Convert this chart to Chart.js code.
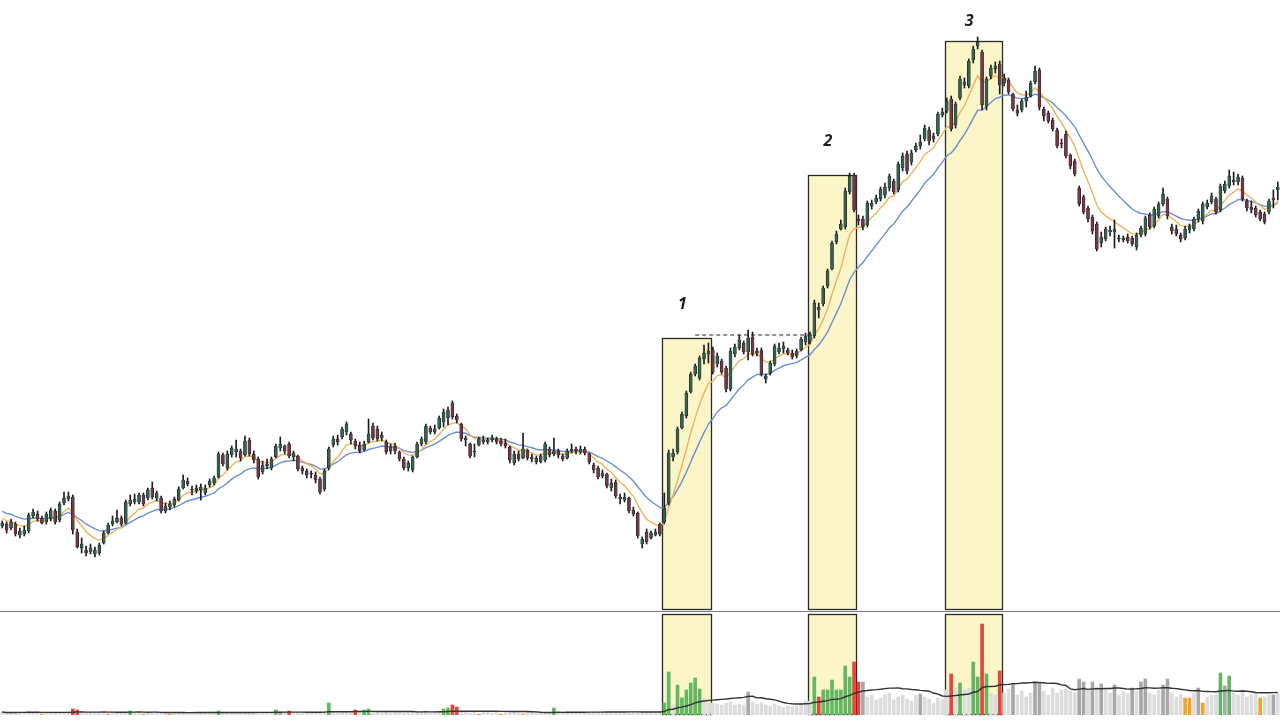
<!DOCTYPE html>
<html>
<head>
<meta charset="utf-8">
<script src="https://cdn.jsdelivr.net/npm/chart.js@4.4.1/dist/chart.umd.min.js"></script>
<style>
  html, body { margin: 0; padding: 0; background: #fff; overflow: hidden; }
  #priceChart { position: absolute; left: 0; top: 0; }
  #volumeChart { position: absolute; left: 0; top: 611px; }
</style>
</head>
<body>
<canvas id="priceChart" width="1280" height="611"></canvas>
<canvas id="volumeChart" width="1280" height="111"></canvas>
<script>
// daily prices (one row = 10 sessions)
const opens = [
  474,476,472,476,465,466,469,484,486,482, 478,481,489,480,497,501,503,468,452,450,
  448,446,447,457,467,476,478,482,477,496, 498,498,505,502,512,502,502,489,493,495,
  500,512,519,510,509,510,507,515,517,523, 545,532,545,548,549,545,560,546,541,528,
  536,532,543,552,554,556,543,544,532,529, 526,525,521,511,532,555,561,563,568,566,
  559,555,550,558,574,571,562,558,549,554, 548,541,532,530,543,556,558,572,568,572,
  578,582,597,584,576,560,556,548,555,560, 558,560,561,559,557,553,537,546,542,550,
  541,542,538,540,551,546,549,544,542,549, 551,548,551,546,535,532,524,526,512,518,
  503,500,502,490,487,456,468,462,465,476, 478,497,543,548,572,584,608,626,622,641,
  646,650,636,639,632,611,646,652,657,648, 663,647,650,621,627,636,648,651,650,647,
  644,650,658,659,664,690,696,714,731,758, 771,773,808,825,781,781,775,794,798,801,
  805,812,819,810,832,846,838,850,854,861, 870,861,866,885,889,901,875,902,915,914,
  940,954,948,894,924,931,936,917,920,906, 890,890,899,904,918,930,891,887,880,870,
  857,866,845,839,812,803,792,783,776,757, 761,768,768,762,760,763,762,753,765,766,
  785,774,784,796,801,773,771,765,762,770, 771,781,779,793,798,801,790,809,814,820,
  818,822,799,793,792,788,786,788,800,810
];
const highs = [
  479,478,481,478,472,474,487,491,489,484, 488,492,491,498,508,508,505,471,462,454,
  456,453,457,469,477,484,490,484,500,505, 506,507,507,512,518,509,504,497,499,503,
  513,525,522,514,515,516,515,521,524,548, 547,549,554,560,551,564,562,549,543,539,
  541,543,556,563,555,558,549,545,534,531, 529,528,523,531,553,564,565,573,578,568,
  561,558,559,581,577,574,568,560,556,557, 549,543,539,544,558,563,576,574,575,584,
  591,593,599,586,577,564,557,556,563,564, 562,565,563,562,561,554,549,549,567,551,
  546,544,546,558,553,562,551,546,551,556, 553,554,553,547,537,534,530,527,521,520,
  506,507,503,493,488,463,471,469,471,477, 507,550,551,573,588,609,628,636,644,655,
  657,653,647,641,634,652,656,665,659,670, 668,652,652,626,639,656,657,658,652,650,
  651,663,667,668,700,697,714,731,759,769, 780,812,827,827,785,784,799,800,805,813,
  817,826,821,838,847,849,850,857,865,875, 873,867,888,892,902,904,898,924,922,941,
  954,963,950,923,935,938,939,926,922,907, 895,901,909,919,934,932,893,889,882,872,
  861,869,846,841,814,805,794,785,778,768, 773,774,780,765,764,766,764,767,774,784,
  787,793,798,812,803,776,775,767,774,776, 783,791,798,800,807,803,816,819,830,828,
  826,824,801,799,794,790,788,801,810,818
];
const lows = [
  472,467,470,464,462,464,467,482,479,476, 476,479,476,478,495,499,466,452,447,444,
  446,443,445,456,466,474,477,474,476,494, 496,496,494,500,501,499,487,487,490,493,
  499,511,514,505,507,500,505,513,515,522, 534,530,543,543,539,544,544,537,521,526,
  531,530,542,549,546,542,539,529,526,522, 522,517,506,509,530,553,555,561,565,556,
  551,547,549,557,560,559,559,546,546,546, 539,530,529,528,542,554,556,566,566,571,
  573,575,581,577,559,554,542,543,554,556, 556,558,556,554,552,537,535,539,541,540,
  538,536,537,538,543,544,542,539,541,547, 546,546,545,536,527,521,522,512,509,502,
  496,498,487,484,462,452,456,461,464,464, 476,495,539,546,571,582,607,624,620,636,
  637,626,633,626,608,609,643,650,646,640, 644,644,624,617,625,634,646,647,645,641,
  642,649,655,656,662,682,694,712,730,756, 770,771,806,788,775,770,773,791,796,799,
  802,809,806,808,829,826,835,848,851,859, 855,858,864,883,887,869,872,900,912,912,
  937,951,890,890,921,927,906,914,906,889, 884,888,893,903,916,890,879,877,869,852,
  852,842,831,824,794,786,778,766,749,753, 759,764,752,758,758,757,754,750,763,764,
  771,772,782,794,781,766,764,758,760,767, 769,778,776,791,796,786,788,807,812,815,
  815,799,789,787,783,779,776,786,792,800
];
const closes = [
  477,470,478,466,469,470,485,488,481,477, 486,490,478,496,502,504,470,453,456,447,
  452,450,455,467,475,479,482,476,498,500, 501,505,496,510,503,507,489,494,496,501,
  511,520,516,511,512,513,512,519,522,546, 536,546,552,551,542,559,546,540,523,535,
  534,541,554,556,549,544,547,531,529,525, 527,520,508,529,551,561,558,571,576,560,
  554,549,556,566,562,561,565,548,553,549, 541,532,537,543,556,561,574,568,571,582,
  588,590,583,580,561,562,544,549,561,558, 560,562,558,556,554,540,546,541,551,542,
  543,538,544,556,545,549,545,541,549,551, 549,551,547,538,530,523,527,514,517,504,
  501,503,489,486,464,461,458,467,468,466, 492,547,547,571,586,607,626,634,642,647,
  649,628,644,628,611,649,653,660,648,662, 646,649,626,624,637,654,652,654,647,643,
  649,661,664,666,697,693,712,729,757,766, 776,809,824,790,779,773,797,797,802,811,
  813,824,808,836,844,829,847,854,858,872, 859,864,886,888,899,871,896,921,918,939,
  951,958,895,921,932,934,915,922,908,891, 887,899,903,917,929,893,884,879,871,854,
  856,844,834,826,796,788,781,769,751,763, 771,770,771,761,762,759,756,765,772,782,
  773,791,796,806,784,769,766,761,771,774, 781,789,796,797,804,788,814,816,824,818,
  823,801,792,790,785,781,778,799,802,813
];

// volume per session and how the chart coloured it
// n = normal, d = above normal, u = heavy up day, r = heavy down day, o = dry-up day
const volumes = [
  3,2,3,2,3,3,4,2,3,1, 3,2,3,3,2,3,6,5,3,2,
  3,2,3,3,1,3,2,2,3,4, 3,3,1,2,3,3,2,3,1,2,
  3,2,2,3,2,3,2,3,3,4, 3,2,3,2,3,3,2,3,2,3,
  2,3,5,3,3,4,2,3,2,3, 3,2,3,3,12,3,2,3,3,2,
  5,3,5,6,3,3,2,3,2,3, 3,2,3,3,4,3,3,2,3,3,
  6,7,10,8,3,3,2,3,1,3, 3,2,3,1,3,2,3,2,1,3,
  3,3,2,3,3,7,3,2,3,3, 3,3,3,2,3,3,3,3,3,3,
  3,3,3,3,4,3,3,3,3,3, 12,43,10,30,17,25,32,37,26,17,
  12,12,11,10,12,13,10,11,10,23, 13,11,12,10,9,11,9,8,9,8,
  9,12,14,14,38,18,25,25,35,25, 25,49,38,53,33,33,18,20,15,17,
  20,22,15,18,20,16,14,20,21,18, 16,12,17,15,25,41,27,32,25,27,
  53,38,91,41,22,20,44,22,26,30, 20,24,18,22,33,33,24,20,27,22,
  25,26,24,22,36,33,25,33,28,31, 25,22,30,20,24,21,27,24,33,36,
  22,20,25,30,36,22,18,20,17,17, 22,27,12,18,20,20,42,29,39,22,
  20,25,18,20,22,17,18,20,20,22
];
const volumeKind = [
  'n','n','n','n','n','n','n','n','n','o', 'n','n','n','n','n','n','r','r','n','n',
  'n','n','n','n','o','n','n','n','n','u', 'n','n','o','n','n','n','n','n','o','n',
  'n','n','n','n','n','n','n','n','n','u', 'n','n','n','n','n','n','n','n','n','n',
  'n','n','u','d','n','r','n','n','n','n', 'n','n','n','n','u','n','n','n','n','n',
  'r','n','u','u','n','n','n','n','n','n', 'n','n','n','n','n','n','n','n','n','n',
  'u','u','r','r','n','n','n','n','o','n', 'n','n','n','o','n','n','n','n','o','n',
  'n','n','n','n','n','u','n','n','n','n', 'n','n','n','n','n','n','n','n','n','n',
  'n','n','n','n','n','n','n','n','n','n', 'u','u','n','u','u','u','u','u','u','n',
  'n','n','n','n','n','n','n','n','n','d', 'n','n','n','n','n','n','n','n','n','n',
  'n','n','n','n','u','r','u','u','u','u', 'u','u','u','r','r','d','n','n','n','n',
  'n','n','n','n','n','n','n','n','d','n', 'n','n','n','n','n','r','n','u','n','n',
  'u','u','r','u','n','n','r','n','n','d', 'n','n','n','n','d','d','n','n','n','n',
  'n','n','n','n','d','d','n','d','n','d', 'n','n','d','n','n','n','d','n','d','d',
  'n','n','n','d','d','n','n','n','o','o', 'n','d','o','n','n','n','u','d','u','n',
  'n','n','n','n','n','o','n','n','d','n'
];

// highlighted runs (session index from / to) with the top of each box
const boxFrom = [150, 183, 214];
const boxTo = [160, 193, 226];
const boxTop = [662, 825, 959];
const boxLabels = ['1', '2', '3'];

// dashed resistance line
const resistLevel = 665;
const resistFrom = 157;
const resistTo = 183;

// moving averages: fast / slow EMA on price, SMA on volume
const emaFast = 8, emaSlow = 18, volAvgLen = 20;
const emaSeed = [483, 490]; // where both EMAs enter the picture on the left

const days = closes.map((c, i) => 'D' + (i + 1));

function ema(values, period, seed) {
    const k = 2 / (period + 1);
    let prev = seed;
    return values.map(v => (prev = prev + k * (v - prev)));
}

function sma(values, period) {
    return values.map((v, i) => {
        const win = values.slice(Math.max(0, i - period + 1), i + 1);
        return win.reduce((a, b) => a + b, 0) / win.length;
    });
}

const kindColor = { n: '#dcdcdc', d: '#a8a8a8', u: '#62b862', r: '#e5473e', o: '#f0a52e' };

// yellow boxes (drawn under the candles)
function boxPlugin(inPricePanel) {
    return {
        id: 'boxes',
        beforeDatasetsDraw(chart) {
            const ctx = chart.ctx;
            const x = chart.scales.x;
            const area = chart.chartArea;
            const half = (x.getPixelForValue(1) - x.getPixelForValue(0)) / 2;
            ctx.save();
            for (let b = 0; b < boxFrom.length; b++) {
                const left = Math.round(x.getPixelForValue(boxFrom[b]) - half) + 0.5;
                const right = Math.round(x.getPixelForValue(boxTo[b]) + half) + 0.5;
                const top = inPricePanel ? Math.round(chart.scales.y.getPixelForValue(boxTop[b])) + 0.5 : area.top + 1.5;
                const bottom = inPricePanel ? area.bottom - 1.5 : area.bottom - 0.5;
                ctx.fillStyle = '#fcf5c8';
                ctx.fillRect(left, top, right - left, bottom - top);
                ctx.strokeStyle = '#2a2a2a';
                ctx.lineWidth = 1.3;
                ctx.strokeRect(left, top, right - left, bottom - top);
            }
            ctx.restore();
        },
        afterDraw(chart) {
            const ctx = chart.ctx;
            ctx.save();
            if (inPricePanel) {
                const x = chart.scales.x;
                const half = (x.getPixelForValue(1) - x.getPixelForValue(0)) / 2;
                ctx.font = 'italic bold 16px "Open Sans"';
                ctx.fillStyle = '#1e1e1e';
                ctx.textAlign = 'center';
                ctx.textBaseline = 'middle';
                for (let b = 0; b < boxFrom.length; b++) {
                    const mid = (x.getPixelForValue(boxFrom[b]) - half + x.getPixelForValue(boxTo[b]) + half) / 2;
                    const top = chart.scales.y.getPixelForValue(boxTop[b]);
                    ctx.fillText(boxLabels[b], mid - 4, Math.max(21, top - 34));
                }
            } else {
                // panel separator
                ctx.strokeStyle = '#7a7a7a';
                ctx.lineWidth = 1;
                ctx.beginPath();
                ctx.moveTo(0, 0.5);
                ctx.lineTo(chart.width, 0.5);
                ctx.stroke();
            }
            ctx.restore();
        }
    };
}

const priceChart = new Chart(document.getElementById('priceChart'), {
    type: 'bar',
    data: {
        labels: days,
        datasets: [
            {
                type: 'line',
                data: ema(closes, emaFast, emaSeed[0]),
                borderColor: '#f0b25a',
                borderWidth: 1.4,
                pointRadius: 0,
                order: 3
            },
            {
                type: 'line',
                data: ema(closes, emaSlow, emaSeed[1]),
                borderColor: '#6c8fd4',
                borderWidth: 1.4,
                pointRadius: 0,
                order: 4
            },
            {
                // wicks
                data: lows.map((l, i) => [l, highs[i]]),
                backgroundColor: '#1c1c1c',
                barThickness: 1,
                grouped: false,
                order: 2
            },
            {
                // bodies
                data: opens.map((o, i) => [o, closes[i]]),
                backgroundColor: opens.map((o, i) => closes[i] >= o ? '#35634f' : '#743947'),
                borderColor: '#1c1c1c',
                borderWidth: 0.6,
                borderSkipped: false,
                barThickness: 3,
                grouped: false,
                order: 1
            },
            {
                type: 'line',
                data: closes.map((c, i) => (i >= resistFrom && i <= resistTo) ? resistLevel : null),
                borderColor: '#222',
                borderWidth: 1,
                borderDash: [4, 3],
                pointRadius: 0,
                order: 0
            }
        ]
    },
    options: {
        responsive: false,
        animation: false,
        layout: { padding: 0 },
        plugins: { legend: { display: false }, tooltip: { enabled: false } },
        scales: {
            x: { display: false, offset: true },
            y: { display: false, min: 389, max: 1000 }
        }
    },
    plugins: [boxPlugin(true)]
});

const volumeChart = new Chart(document.getElementById('volumeChart'), {
    type: 'bar',
    data: {
        labels: days,
        datasets: [
            {
                type: 'line',
                data: sma(volumes, volAvgLen),
                borderColor: '#333',
                borderWidth: 1.4,
                pointRadius: 0,
                order: 0
            },
            {
                data: volumes,
                backgroundColor: volumeKind.map(k => kindColor[k]),
                barThickness: 3,
                order: 1
            }
        ]
    },
    options: {
        responsive: false,
        animation: false,
        layout: { padding: { top: 2, bottom: 7 } },
        plugins: { legend: { display: false }, tooltip: { enabled: false } },
        scales: {
            x: { display: false, offset: true },
            y: { display: false, min: 0, max: 102 }
        }
    },
    plugins: [boxPlugin(false)]
});
</script>
</body>
</html>
